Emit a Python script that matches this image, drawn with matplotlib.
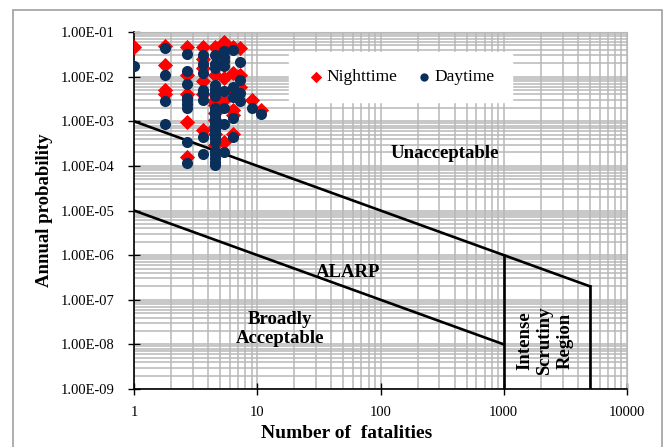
import matplotlib
matplotlib.use("Agg")
import matplotlib.pyplot as plt
from matplotlib.ticker import FixedLocator, FixedFormatter, LogLocator, NullFormatter
from matplotlib.patches import Rectangle

plt.rcParams['font.family'] = ['Liberation Serif', 'DejaVu Serif']

# ---- data ----
night_x = [1, 1.8, 1.8, 1.8, 1.8,
           2.7, 2.7, 2.7, 2.7, 2.7,
           3.6, 3.6, 3.6, 3.6, 3.6, 3.6,
           4.5, 4.5, 4.5, 4.5, 4.5, 4.5, 4.5, 4.5, 4.5, 4.5,
           5.4, 5.4, 5.4, 5.4,
           6.3, 6.3, 6.3, 6.3, 6.3, 6.3,
           7.2, 7.2, 7.2,
           9.0, 10.8]
night_y = [4.7e-2, 4.8e-2, 1.8e-2, 5.0e-3, 4.0e-3,
           4.7e-2, 1.08e-2, 4.0e-3, 9.6e-4, 1.6e-4,
           4.7e-2, 2.5e-2, 1.6e-2, 7.9e-3, 4.0e-3, 6.3e-4,
           4.7e-2, 1.08e-2, 3.0e-3, 2.7e-3, 2.3e-3, 1.5e-3, 1.05e-3, 7.3e-4, 5.1e-4, 2.9e-4,
           6.0e-2, 9.5e-3, 3.0e-3, 3.4e-4,
           4.7e-2, 1.18e-2, 4.6e-3, 1.77e-3, 1.4e-3, 5.3e-4,
           4.3e-2, 1.08e-2, 5.9e-3,
           3.0e-3, 1.77e-3]

day_x = [1, 1.8, 1.8, 1.8, 1.8,
         2.7, 2.7, 2.7, 2.7, 2.7, 2.7, 2.7, 2.7, 2.7,
         3.6, 3.6, 3.6, 3.6, 3.6, 3.6, 3.6, 3.6,
         4.5, 4.5, 4.5, 4.5, 4.5, 4.5, 4.5, 4.5, 4.5, 4.5, 4.5, 4.5,
         4.5, 4.5, 4.5, 4.5, 4.5, 4.5, 4.5, 4.5, 4.5, 4.5, 4.5,
         5.4, 5.4, 5.4, 5.4, 5.4, 5.4, 5.4, 5.4,
         6.3, 6.3, 6.3, 6.3, 6.3,
         7.2, 7.2, 7.2, 7.2,
         9.0, 10.8]
day_y = [1.7e-2, 4.4e-2, 1.1e-2, 2.9e-3, 8.9e-4,
         3.2e-2, 1.35e-2, 6.8e-3, 3.3e-3, 3.0e-3, 2.4e-3, 2.0e-3, 3.4e-4, 1.14e-4,
         3.0e-2, 1.9e-2, 1.18e-2, 5.0e-3, 4.4e-3, 3.0e-3, 4.4e-4, 1.8e-4,
         3.0e-2, 1.9e-2, 1.6e-2, 6.4e-3, 5.3e-3, 4.5e-3, 3.6e-3, 2.0e-3, 1.7e-3, 1.4e-3, 1.2e-3, 1.0e-3,
         8.5e-4, 7.0e-4, 6.0e-4, 5.0e-4, 4.2e-4, 3.5e-4, 2.2e-4, 1.8e-4, 1.5e-4, 1.25e-4, 1.03e-4,
         3.8e-2, 2.7e-2, 2.2e-2, 1.7e-2, 4.8e-3, 2.0e-3, 8.9e-4, 2.0e-4,
         3.9e-2, 5.9e-3, 3.5e-3, 1.2e-3, 4.4e-4,
         2.15e-2, 8.3e-3, 4.3e-3, 2.8e-3,
         2.0e-3, 1.42e-3]

# F-N criterion lines
upper_x = [1, 1000, 5000]
upper_y = [1e-3, 1e-6, 2e-7]
lower_x = [1, 1000]
lower_y = [1e-5, 1e-8]
scrutiny_x = [1000, 5000]
scrutiny_top = [1e-6, 2e-7]

x_ticks = [1, 10, 100, 1000, 10000]
x_labels = ['1', '10', '100', '1000', '10000']
y_ticks = [1e-9, 1e-8, 1e-7, 1e-6, 1e-5, 1e-4, 1e-3, 1e-2, 1e-1]
y_labels = ['1.00E-09', '1.00E-08', '1.00E-07', '1.00E-06', '1.00E-05',
            '1.00E-04', '1.00E-03', '1.00E-02', '1.00E-01']

# ---- figure ----
fig = plt.figure(figsize=(6.66, 4.47), dpi=100)
fig.patch.set_facecolor('white')
fig.patches.append(Rectangle((13 / 666, -0.02), (662 - 13) / 666, 1 - 10 / 447 + 0.02,
                             transform=fig.transFigure, fill=False,
                             edgecolor='#a0a0a0', lw=1.2))

ax = fig.add_axes([134 / 666, 1 - 389 / 447, (627 - 134) / 666, (389 - 32) / 447])
ax.set_xscale('log')
ax.set_yscale('log')
ax.set_xlim(1, 10000)
ax.set_ylim(1e-9, 1e-1)

ax.xaxis.set_major_locator(FixedLocator(x_ticks))
ax.xaxis.set_major_formatter(FixedFormatter(x_labels))
ax.yaxis.set_major_locator(FixedLocator(y_ticks))
ax.yaxis.set_major_formatter(FixedFormatter(y_labels))
ax.xaxis.set_minor_locator(LogLocator(base=10, subs=range(2, 10), numticks=20))
ax.yaxis.set_minor_locator(LogLocator(base=10, subs=range(2, 10), numticks=20))
ax.xaxis.set_minor_formatter(NullFormatter())
ax.yaxis.set_minor_formatter(NullFormatter())

ax.grid(True, which='both', color='#b8b8b8', lw=1.1)
ax.set_axisbelow(True)
ax.tick_params(which='major', direction='inout', length=8, width=1, labelsize=10.5, colors='black')
ax.tick_params(axis='y', pad=10)
ax.tick_params(axis='x', pad=8)
ax.tick_params(which='minor', length=0)
for s in ['top', 'right']:
    ax.spines[s].set_color('#b8b8b8')
for s in ['left', 'bottom']:
    ax.spines[s].set_color('black')
    ax.spines[s].set_linewidth(1.2)

# criterion lines
ax.plot(upper_x, upper_y, color='black', lw=1.9, zorder=3)
ax.plot(lower_x, lower_y, color='black', lw=1.9, zorder=3)
for xv, yt in zip(scrutiny_x, scrutiny_top):
    ax.plot([xv, xv], [yt, 1e-9], color='black', lw=1.9, zorder=3)

# data
ax.scatter(night_x, night_y, marker='D', s=60, color='#ff0000', lw=0, zorder=4, label='Nighttime')
ax.scatter(day_x, day_y, marker='o', s=64, color='#0b2f5b', lw=0, zorder=5, label='Daytime')

leg = ax.legend(loc='center', bbox_to_anchor=(0.54, 0.874), ncol=2, frameon=True,
                fancybox=False, framealpha=1, edgecolor='white', fontsize=12.5,
                handletextpad=0.0, columnspacing=0.9, borderpad=1.0, handlelength=1.2,
                borderaxespad=0, markerscale=0.75, scatterpoints=1)
leg.set_zorder(6)

tkw = dict(fontsize=13.5, fontweight='bold', ha='center', va='center', zorder=6)
ax.text(334, 1.9e-4, 'Unacceptable', **tkw)
ax.text(54.5, 4.1e-7, 'ALARP', **tkw)
ax.text(15.3, 2.2e-8, 'Broadly\nAcceptable', linespacing=1.15, **tkw)
ax.text(2160, 1.2e-8, 'Intense\nScrutiny\nRegion', rotation=90, linespacing=1.25, **tkw)

ax.set_xlabel('Number of  fatalities', fontsize=14, fontweight='bold')
ax.set_ylabel('Annual probability', fontsize=13.5, fontweight='bold')
ax.xaxis.set_label_coords(0.432, -0.1)
ax.yaxis.set_label_coords(-0.165, 0.5)

fig.savefig('out.png', dpi=100)
